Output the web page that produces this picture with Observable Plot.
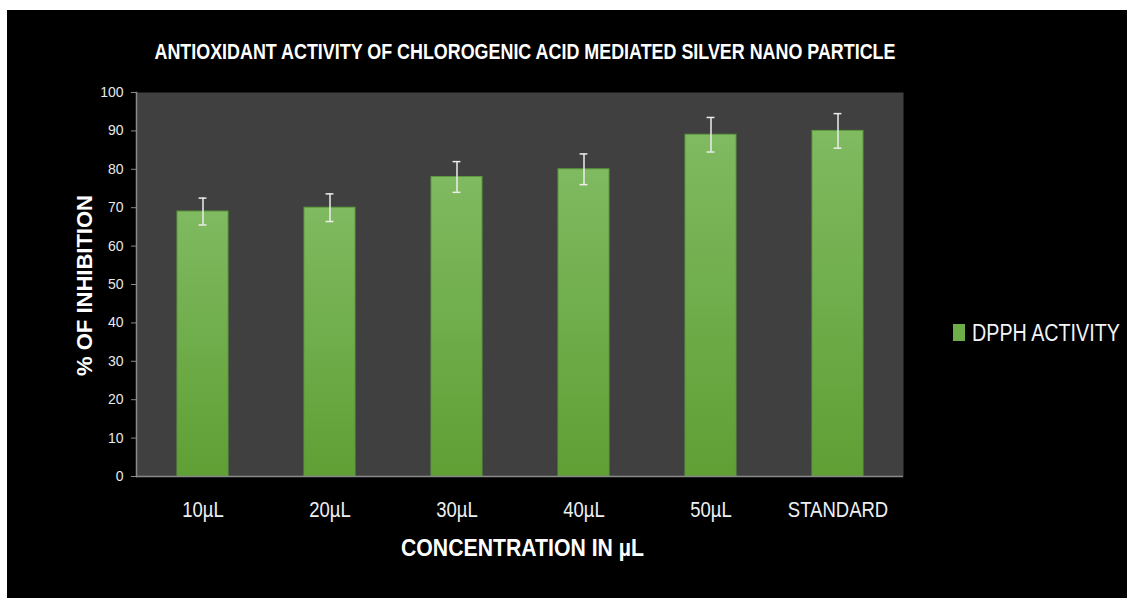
<!DOCTYPE html>
<html>
<head>
<meta charset="utf-8">
<script src="https://cdn.jsdelivr.net/npm/d3@7"></script>
<script src="https://cdn.jsdelivr.net/npm/@observablehq/plot@0.6"></script>
<style>
  html, body { margin: 0; padding: 0; background: #ffffff; width: 1127px; height: 598px; overflow: hidden; }
  #bg { position: absolute; left: 7px; top: 10px; width: 1120px; height: 588px; background: #000000; }
  #chart { position: absolute; left: 0; top: 0; }
  #legend { position: absolute; left: 940px; top: 310px; overflow: visible; }
</style>
</head>
<body>
<div id="bg"></div>
<div id="chart"></div>
<svg id="legend" width="186" height="45" xmlns="http://www.w3.org/2000/svg"></svg>
<script>
// ---- data ----
const categories = ["10µL", "20µL", "30µL", "40µL", "50µL", "STANDARD"];
const inhibition = [69, 70, 78, 80, 89, 90];
const errors = [3.5, 3.6, 4, 4, 4.5, 4.5];
const yTicks = [0, 10, 20, 30, 40, 50, 60, 70, 80, 90, 100];
const titleText = "ANTIOXIDANT ACTIVITY OF CHLOROGENIC ACID MEDIATED SILVER NANO PARTICLE";
const xLabel = "CONCENTRATION IN µL";
const yLabel = "% OF INHIBITION";
const seriesName = "DPPH ACTIVITY";

const rows = categories.map((c, i) => ({cat: c, v: inhibition[i], lo: inhibition[i] - errors[i], hi: inhibition[i] + errors[i]}));

// ---- layout ----
const W = 1127, H = 598;
const mL = 136, mR = 224, mT = 92, mB = 122;
const plotW = W - mL - mR;
const step = plotW / categories.length;
const bandW = step * 0.4;
const capW = 8;
const capInset = (bandW - capW) / 2;
const FONT = "'Liberation Sans', Arial, sans-serif";

const defs = () => {
  const ns = "http://www.w3.org/2000/svg";
  const d = document.createElementNS(ns, "defs");
  const g = document.createElementNS(ns, "linearGradient");
  g.setAttribute("id", "barGrad");
  g.setAttribute("x1", "0"); g.setAttribute("y1", "0");
  g.setAttribute("x2", "0"); g.setAttribute("y2", "1");
  [["0%", "#80ba61"], ["100%", "#5f9f34"]].forEach(([o, c]) => {
    const s = document.createElementNS(ns, "stop");
    s.setAttribute("offset", o); s.setAttribute("stop-color", c);
    g.appendChild(s);
  });
  d.appendChild(g);
  return d;
};

const chart = Plot.plot({
  width: W,
  height: H,
  marginLeft: mL,
  marginRight: mR,
  marginTop: mT,
  marginBottom: mB,
  style: {background: "transparent", fontFamily: FONT, color: "#e8e8e8", overflow: "visible"},
  x: {domain: categories, paddingInner: 0.6, paddingOuter: 0.3, axis: null},
  y: {domain: [0, 100], axis: null},
  marks: [
    defs,
    Plot.frame({fill: "#404040", stroke: null}),
    Plot.barY(rows, {x: "cat", y: "v", fill: "url(#barGrad)", stroke: "#5c9a3c", strokeWidth: 1}),
    Plot.ruleX(rows, {x: "cat", y1: "lo", y2: "hi", stroke: "#ececec", strokeWidth: 1.5}),
    Plot.tickY(rows, {x: "cat", y: "hi", stroke: "#ececec", strokeWidth: 1.5, insetLeft: capInset, insetRight: capInset}),
    Plot.tickY(rows, {x: "cat", y: "lo", stroke: "#ececec", strokeWidth: 1.5, insetLeft: capInset, insetRight: capInset}),
    Plot.ruleY([0], {stroke: "#8a8a8a", strokeWidth: 1.5}),
    Plot.axisY({ticks: yTicks, tickSize: 5, tickPadding: 8, fontSize: 14, stroke: "#8a8a8a", fill: "#e6e9ee", label: null, fontFamily: FONT}),
    Plot.frame({anchor: "left", stroke: "#8a8a8a", strokeWidth: 1.5}),
    Plot.text(categories, {x: d => d, text: d => d, frameAnchor: "bottom", lineAnchor: "middle", dy: 33.3, fontSize: 21.5, fill: "#eef0f4", fontFamily: FONT}),
    Plot.text([titleText], {text: d => d, frameAnchor: "top", textAnchor: "middle", lineAnchor: "middle", dx: 5, dy: -40.7, fontSize: 22.5, fontWeight: "bold", fill: "#ffffff", fontFamily: FONT}),
    Plot.text([xLabel], {text: d => d, frameAnchor: "bottom", textAnchor: "middle", lineAnchor: "middle", dx: 2.5, dy: 72.6, fontSize: 23, fontWeight: "bold", fill: "#ffffff", fontFamily: FONT}),
    Plot.text([yLabel], {text: d => d, frameAnchor: "left", textAnchor: "middle", lineAnchor: "middle", rotate: -90, dx: -51.3, dy: 1, fontSize: 22, fontWeight: "bold", fill: "#ffffff", fontFamily: FONT})
  ]
});

document.getElementById("chart").appendChild(chart);

// condense text to match the narrow typeface of the original
const fixedWidths = new Map([[titleText, 741], [xLabel, 243]]);
d3.select(chart).selectAll("text").each(function() {
  const t = this.textContent;
  if (fixedWidths.has(t)) {
    this.setAttribute("textLength", fixedWidths.get(t));
    this.setAttribute("lengthAdjust", "spacingAndGlyphs");
  } else if (categories.includes(t)) {
    const len = this.getComputedTextLength();
    this.setAttribute("textLength", (len * 0.86).toFixed(1));
    this.setAttribute("lengthAdjust", "spacingAndGlyphs");
  }
});

// legend
const lg = d3.select("#legend");
lg.append("rect").attr("x", 13).attr("y", 14).attr("width", 12).attr("height", 17).attr("fill", "#6eae48");
const lt = lg.append("text").attr("x", 0).attr("y", 0).attr("font-family", FONT).attr("font-size", 23.5)
  .attr("fill", "#f2f4f8").text(seriesName);
const natural = lt.node().getComputedTextLength();
lt.attr("transform", `translate(32,31) scale(${(148 / natural).toFixed(4)},1)`);
</script>
</body>
</html>
